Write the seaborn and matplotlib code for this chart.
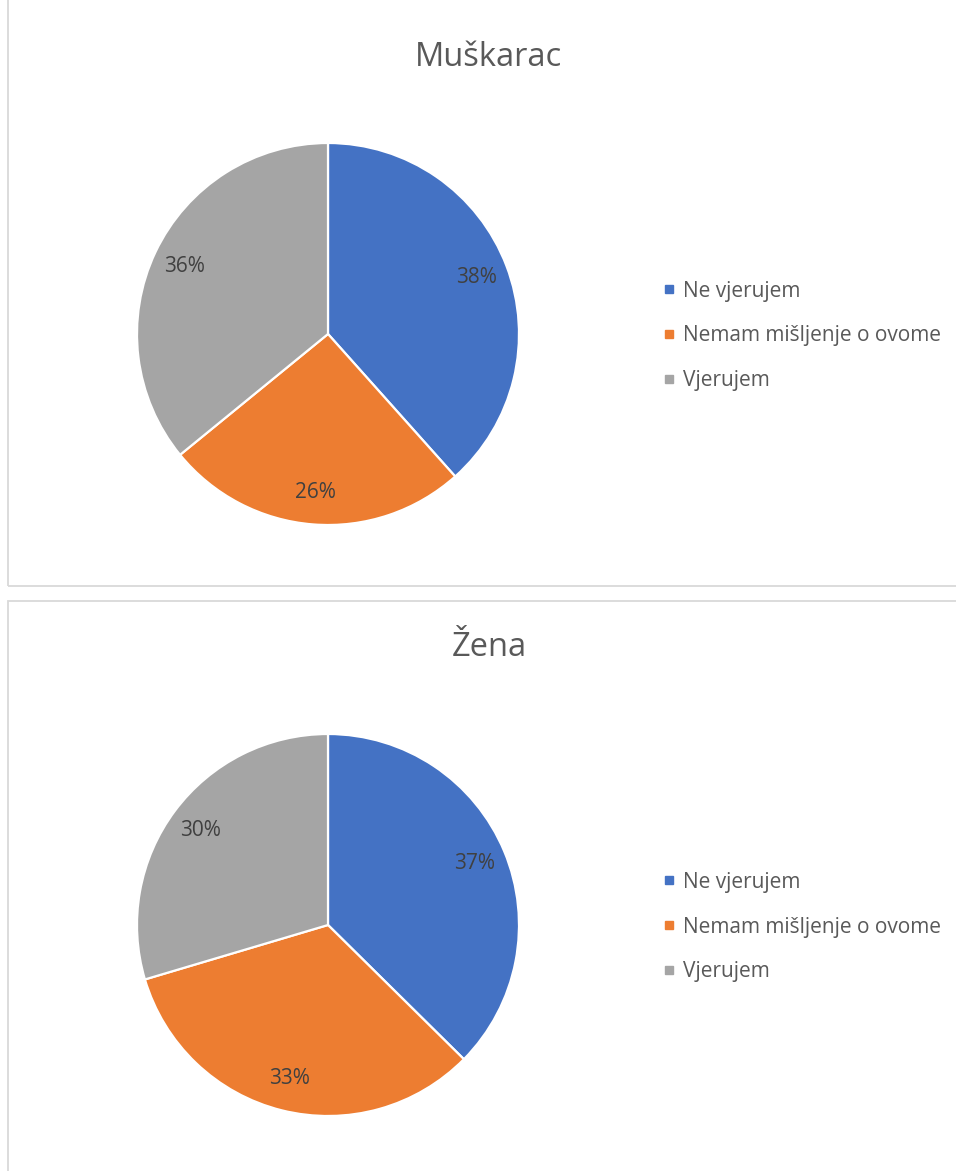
import matplotlib
matplotlib.use("Agg")
import matplotlib.pyplot as plt
from matplotlib.patches import Rectangle
from matplotlib.lines import Line2D
import seaborn as sns

categories = ["Ne vjerujem", "Nemam mišljenje o ovome", "Vjerujem"]
men_values = [38.4, 25.7, 35.9]
women_values = [37.4, 33.0, 29.6]
titles = ["Muškarac", "Žena"]
colors = ["#4472C4", "#ED7D31", "#A5A5A5"]

sns.set_theme(style="white")
sns.set_palette(colors)
plt.rcParams['font.family'] = ['Open Sans', 'DejaVu Sans']

W, H = 956, 1171
fig = plt.figure(figsize=(W / 100, H / 100), dpi=100)
fig.patch.set_facecolor("white")

def fx(x):
    return x / W

def fy(y):
    return 1 - y / H

# panel frames (pixel coords: left, top, right, bottom)
frames = [(8, -5, 980, 586), (8, 601, 980, 1190)]
for (l, t, r, b) in frames:
    fig.patches.append(Rectangle((fx(l), fy(b)), fx(r - l), (b - t) / H,
                                 transform=fig.transFigure, fill=False,
                                 edgecolor="#D9D9D9", linewidth=1.3, zorder=0))

centers = [(328, 334), (328, 925)]
radius = 191
title_y = [57, 647]
legend_y = [336, 927]

for values, title, (cx, cy), ty, ly in zip([men_values, women_values], titles,
                                           centers, title_y, legend_y):
    ax = fig.add_axes([fx(cx - radius), fy(cy + radius), 2 * radius / W, 2 * radius / H])
    wedges, texts, autotexts = ax.pie(
        values, colors=sns.color_palette(colors), startangle=90, counterclock=False,
        autopct=lambda p: f"{p:.0f}%", pctdistance=0.83, radius=1,
        wedgeprops=dict(edgecolor="white", linewidth=1.6),
        textprops=dict(color="#404040", fontsize=15))
    ax.set_xlim(-1, 1)
    ax.set_ylim(-1, 1)
    ax.set_aspect("equal")
    ax.axis("off")
    fig.text(fx(489), fy(ty), title, ha="center", va="center",
             fontsize=23.5, color="#595959")
    handles = [Line2D([0], [0], marker="s", linestyle="none", markersize=5.5,
                      markerfacecolor=c, markeredgecolor=c) for c in colors]
    fig.legend(handles, categories, loc="center left",
               bbox_to_anchor=(fx(652), fy(ly)), frameon=False,
               fontsize=15, labelcolor="#595959", handlelength=0.6,
               handletextpad=0.4, labelspacing=1.15, borderpad=0)

fig.savefig("out.png", dpi=100, facecolor="white")
